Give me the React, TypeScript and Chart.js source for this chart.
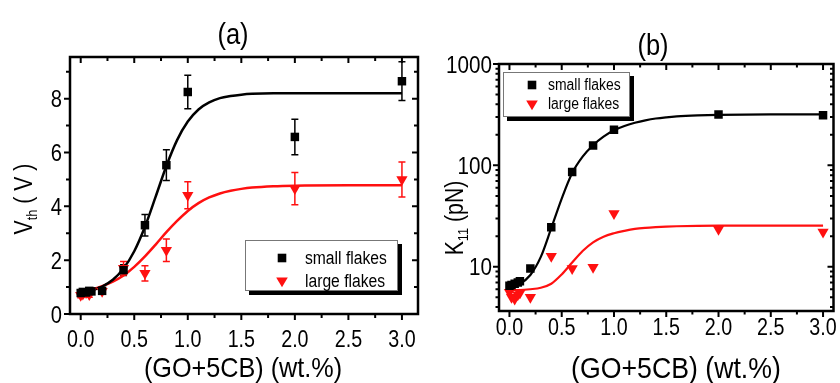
import React, { useEffect, useRef } from "react";
import { Chart, registerables } from "chart.js";

Chart.register(...registerables);

const FONT = '"Liberation Sans", Arial, sans-serif';
const RED = "#ff1010";
const BLACK = "#000000";

// ---------- data ----------
const conc = [0, 0.02, 0.05, 0.08, 0.1, 0.2, 0.4, 0.6, 0.8, 1.0, 2.0, 3.0];

// panel (a): threshold voltage (V)
const vthSmall = [0.78, 0.82, 0.8, 0.86, 0.84, 0.86, 1.63, 3.3, 5.53, 8.25, 6.58, 8.65];
const vthSmallErr = [0.1, 0.1, 0.1, 0.1, 0.1, 0.12, 0.2, 0.4, 0.57, 0.62, 0.66, 0.72];
const vthLarge = [0.7, 0.74, 0.8, 0.72, 0.86, 0.85, 1.7, 1.51, 2.37, 4.41, 4.66, 5.0];
const vthLargeErr = [0.1, 0.1, 0.12, 0.1, 0.12, 0.1, 0.25, 0.28, 0.42, 0.5, 0.6, 0.65];

// fitted curves
const fitConc = [0, 0.1, 0.2, 0.3, 0.4, 0.5, 0.6, 0.7, 0.8, 0.9, 1.0, 1.1, 1.2, 1.3, 1.4, 1.5, 1.6, 1.8, 2.0, 2.5, 3.0];
const vthSmallFit = [0.8, 0.88, 1.02, 1.27, 1.69, 2.33, 3.24, 4.36, 5.5, 6.46, 7.15, 7.6, 7.86, 8.02, 8.1, 8.15, 8.18, 8.2, 8.2, 8.2, 8.2];
const vthLargeFit = [0.78, 0.9, 1.03, 1.2, 1.43, 1.75, 2.14, 2.58, 3.04, 3.46, 3.83, 4.12, 4.33, 4.48, 4.58, 4.65, 4.7, 4.75, 4.77, 4.78, 4.78];

// panel (b): K11 (pN)
const k11Small = [6.5, 6.6, 6.8, 7.0, 7.2, 9.6, 24.5, 86, 157, 225, 318, 312];
const k11Large = [5.6, 5.0, 4.8, 5.3, 5.5, 5.0, 12.7, 9.6, 9.9, 33.5, 23.5, 22];
const k11SmallFit = [6.3, 6.8, 8.3, 12.5, 24, 47, 84, 122, 158, 192, 222, 245, 263, 278, 290, 298, 304, 311, 315, 318, 318];
const k11LargeFit = [5.9, 5.9, 6.0, 6.2, 6.8, 8.4, 11.0, 14.3, 17.4, 19.8, 21.4, 22.6, 23.6, 24.2, 24.6, 24.9, 25.1, 25.3, 25.4, 25.5, 25.5];

// ticks
const xTicks = [0, 0.5, 1, 1.5, 2, 2.5, 3];
const xTickLabels = ["0.0", "0.5", "1.0", "1.5", "2.0", "2.5", "3.0"];
const xMinorTicks = [0.25, 0.75, 1.25, 1.75, 2.25, 2.75];
const vthTicks = [0, 2, 4, 6, 8];
const vthTickLabels = ["0", "2", "4", "6", "8"];
const vthMinorTicks = [1, 3, 5, 7, 9];
const k11Ticks = [10, 100, 1000];
const k11TickLabels = ["10", "100", "1000"];
const k11MinorTicks = [4, 5, 6, 7, 8, 9, 20, 30, 40, 50, 60, 70, 80, 90, 200, 300, 400, 500, 600, 700, 800, 900];

const seriesNames = ["small flakes", "large flakes"];
const xTitle = "(GO+5CB) (wt.%)";

// ---------- text helper (condensed look) ----------
function drawText(ctx: any, text: string, x: number, y: number, size: number, align: string, sx: number) {
  ctx.save();
  ctx.translate(x, y);
  ctx.scale(sx, 1);
  ctx.font = `${size}px ${FONT}`;
  ctx.textAlign = align;
  ctx.textBaseline = "alphabetic";
  ctx.fillText(text, 0, 0);
  ctx.restore();
}

// ---------- plugins ----------
const errorBarPlugin = {
  id: "errorBars",
  beforeDatasetsDraw(chart: any) {
    const { ctx } = chart;
    const x = chart.scales.x;
    const y = chart.scales.y;
    ctx.save();
    chart.data.datasets.forEach((ds: any) => {
      if (!ds.errors) return;
      ctx.strokeStyle = ds.borderColor;
      ctx.lineWidth = 1.5;
      ds.data.forEach((p: any, i: number) => {
        const e = ds.errors[i];
        const px = x.getPixelForValue(p.x);
        const top = y.getPixelForValue(p.y + e);
        const bot = y.getPixelForValue(p.y - e);
        ctx.beginPath();
        ctx.moveTo(px, top);
        ctx.lineTo(px, bot);
        ctx.moveTo(px - 3.5, top);
        ctx.lineTo(px + 3.5, top);
        ctx.moveTo(px - 3.5, bot);
        ctx.lineTo(px + 3.5, bot);
        ctx.stroke();
      });
    });
    ctx.restore();
  },
};

const framePlugin = {
  id: "frame",
  afterDatasetsDraw(chart: any, _a: any, o: any) {
    const { ctx, chartArea: a } = chart;
    const x = chart.scales.x;
    const y = chart.scales.y;
    ctx.save();
    ctx.strokeStyle = BLACK;
    ctx.lineWidth = o.tickWidth;
    ctx.beginPath();
    const hTick = (v: number, len: number) => {
      const px = x.getPixelForValue(v);
      ctx.moveTo(px, a.bottom);
      ctx.lineTo(px, a.bottom + len);
      ctx.moveTo(px, a.top);
      ctx.lineTo(px, a.top + len);
    };
    const vTick = (v: number, len: number) => {
      const py = y.getPixelForValue(v);
      ctx.moveTo(a.left, py);
      ctx.lineTo(a.left - len, py);
      ctx.moveTo(a.right, py);
      ctx.lineTo(a.right - len, py);
    };
    o.xMajor.forEach((v: number) => hTick(v, o.major));
    o.xMinor.forEach((v: number) => hTick(v, o.minor));
    o.yMajor.forEach((v: number) => vTick(v, o.major));
    o.yMinor.forEach((v: number) => vTick(v, o.minor));
    ctx.stroke();
    ctx.lineWidth = o.frameWidth;
    ctx.strokeRect(a.left, a.top, a.right - a.left, a.bottom - a.top);

    // tick labels
    ctx.fillStyle = BLACK;
    const xl = o.xLabel;
    o.xMajor.forEach((v: number, i: number) => {
      drawText(ctx, xl.labels[i], x.getPixelForValue(v), a.bottom + xl.offset, xl.size, "center", xl.sx);
    });
    const yl = o.yLabel;
    o.yMajor.forEach((v: number, i: number) => {
      drawText(ctx, yl.labels[i], a.left - yl.gap, y.getPixelForValue(v) + yl.size * 0.36, yl.size, "right", yl.sx);
    });
    ctx.restore();
  },
};

const boxLegendPlugin = {
  id: "boxLegend",
  afterDraw(chart: any, _a: any, o: any) {
    const { ctx } = chart;
    ctx.save();
    ctx.fillStyle = BLACK;
    ctx.fillRect(o.x + o.shadow, o.y + o.shadow, o.w, o.h);
    ctx.fillStyle = "#ffffff";
    ctx.fillRect(o.x, o.y, o.w, o.h);
    ctx.strokeStyle = "#777777";
    ctx.lineWidth = 1;
    ctx.strokeRect(o.x + 0.5, o.y + 0.5, o.w - 1, o.h - 1);
    o.items.forEach((it: any, i: number) => {
      const cy = o.rowY[i];
      ctx.fillStyle = it.color;
      ctx.beginPath();
      if (it.style === "rect") {
        ctx.rect(o.markerX - 4.3, cy - 4.3, 8.6, 8.6);
      } else {
        ctx.moveTo(o.markerX - 5.8, cy - 3.6);
        ctx.lineTo(o.markerX + 5.8, cy - 3.6);
        ctx.lineTo(o.markerX, cy + 6.2);
        ctx.closePath();
      }
      ctx.fill();
      ctx.fillStyle = BLACK;
      drawText(ctx, it.text, o.textX, cy + o.textDy, o.fontSize, "left", o.sx);
    });
    ctx.restore();
  },
};

const labelPlugin = {
  id: "labels",
  afterDraw(chart: any, _a: any, o: any) {
    const { ctx } = chart;
    ctx.save();
    ctx.fillStyle = BLACK;
    drawText(ctx, o.title.text, o.title.x, o.title.y, o.title.size, "center", o.title.sx);
    drawText(ctx, o.xTitle.text, o.xTitle.x, o.xTitle.y, o.xTitle.size, "center", o.xTitle.sx);
    // rotated y title with subscript
    const yt = o.yTitle;
    ctx.translate(yt.x, yt.y);
    ctx.rotate(-Math.PI / 2);
    ctx.scale(yt.sx, 1);
    ctx.textAlign = "left";
    ctx.textBaseline = "alphabetic";
    let total = 0;
    yt.parts.forEach((p: any) => {
      ctx.font = `${p.size}px ${FONT}`;
      total += ctx.measureText(p.text).width;
    });
    let xx = -total / 2;
    yt.parts.forEach((p: any) => {
      ctx.font = `${p.size}px ${FONT}`;
      ctx.fillText(p.text, xx, p.dy);
      xx += ctx.measureText(p.text).width;
    });
    ctx.restore();
  },
};

// ---------- configs ----------
function pts(xs: number[], ys: number[]) {
  return xs.map((x, i) => ({ x, y: ys[i] }));
}

function xScale(min: number, max: number, height: number) {
  return {
    type: "linear",
    min,
    max,
    grid: { display: false, drawTicks: false },
    border: { display: false },
    ticks: { display: false },
    afterBuildTicks: (s: any) => {
      s.ticks = xTicks.map((v) => ({ value: v }));
    },
    afterFit: (s: any) => {
      s.height = height;
      s.paddingLeft = 0;
      s.paddingRight = 0;
    },
  };
}

function yScale(type: string, min: number, max: number, ticks: number[]) {
  return {
    type,
    min,
    max,
    grid: { display: false, drawTicks: false },
    border: { display: false },
    ticks: { display: false },
    afterBuildTicks: (s: any) => {
      s.ticks = ticks.map((v) => ({ value: v }));
    },
    afterFit: (s: any) => {
      s.width = 50;
      s.paddingTop = 0;
      s.paddingBottom = 0;
    },
  };
}

function datasets(sy: number[], ly: number[], sf: number[], lf: number[], se?: number[], le?: number[], lw = 2.5) {
  return [
    {
      label: seriesNames[0],
      data: pts(conc, sy),
      errors: se,
      pointStyle: "rect",
      pointRadius: 6,
      backgroundColor: BLACK,
      borderColor: BLACK,
      borderWidth: 0,
      showLine: false,
    },
    {
      label: seriesNames[1],
      data: pts(conc, ly),
      errors: le,
      pointStyle: "triangle",
      rotation: 180,
      pointRadius: 6.5,
      backgroundColor: RED,
      borderColor: RED,
      borderWidth: 0,
      showLine: false,
    },
    {
      label: "fit small",
      data: pts(fitConc, sf),
      showLine: true,
      pointRadius: 0,
      borderColor: BLACK,
      borderWidth: lw,
      cubicInterpolationMode: "monotone",
    },
    {
      label: "fit large",
      data: pts(fitConc, lf),
      showLine: true,
      pointRadius: 0,
      borderColor: RED,
      borderWidth: lw,
      cubicInterpolationMode: "monotone",
    },
  ];
}

function configA(): any {
  return {
    type: "scatter",
    data: { datasets: datasets(vthSmall, vthLarge, vthSmallFit, vthLargeFit, vthSmallErr, vthLargeErr, 2.5) },
    options: {
      animation: false,
      responsive: false,
      layout: { padding: { left: 20, right: 12, top: 57, bottom: 19 } },
      plugins: {
        legend: { display: false },
        tooltip: { enabled: false },
        frame: {
          xMajor: xTicks, xMinor: xMinorTicks, yMajor: vthTicks, yMinor: vthMinorTicks,
          major: 6, minor: 4, tickWidth: 2, frameWidth: 2.5,
          xLabel: { labels: xTickLabels, offset: 33, size: 24, sx: 0.82 },
          yLabel: { labels: vthTickLabels, gap: 8, size: 24, sx: 0.84 },
        },
        boxLegend: {
          x: 245, y: 240, w: 153, h: 51, shadow: 4, fontSize: 18, sx: 0.87,
          markerX: 282, textX: 305, rowY: [258, 281], textDy: 6,
          items: [
            { text: seriesNames[0], color: BLACK, style: "rect" },
            { text: seriesNames[1], color: RED, style: "tri" },
          ],
        },
        labels: {
          title: { text: "(a)", x: 233, y: 44, size: 30, sx: 0.85 },
          xTitle: { text: xTitle, x: 243, y: 377, size: 28, sx: 0.9 },
          yTitle: {
            x: 32, y: 199, sx: 0.85,
            parts: [
              { text: "V", size: 25, dy: 0 },
              { text: "th", size: 15, dy: 5 },
              { text: " ( V )", size: 25, dy: 0 },
            ],
          },
        },
      },
      scales: {
        x: xScale(-0.1, 3.15, 50),
        y: yScale("linear", 0, 9.55, vthTicks),
      },
    },
    plugins: [errorBarPlugin, framePlugin, boxLegendPlugin, labelPlugin],
  };
}

function configB(): any {
  return {
    type: "scatter",
    data: { datasets: datasets(k11Small, k11Large, k11SmallFit, k11LargeFit, undefined, undefined, 2.2) },
    options: {
      animation: false,
      responsive: false,
      layout: { padding: { left: 19, right: 6, top: 64, bottom: 32 } },
      plugins: {
        legend: { display: false },
        tooltip: { enabled: false },
        frame: {
          xMajor: xTicks, xMinor: xMinorTicks, yMajor: k11Ticks, yMinor: k11MinorTicks,
          major: 6, minor: 3.5, tickWidth: 2, frameWidth: 2.5,
          xLabel: { labels: xTickLabels, offset: 24, size: 24, sx: 0.82 },
          yLabel: { labels: k11TickLabels, gap: 7, size: 24, sx: 0.86 },
        },
        boxLegend: {
          x: 73, y: 72, w: 127, h: 45, shadow: 4, fontSize: 16, sx: 0.87,
          markerX: 102, textX: 118, rowY: [85, 104], textDy: 5,
          items: [
            { text: seriesNames[0], color: BLACK, style: "rect" },
            { text: seriesNames[1], color: RED, style: "tri" },
          ],
        },
        labels: {
          title: { text: "(b)", x: 223, y: 55, size: 30, sx: 0.85 },
          xTitle: { text: xTitle, x: 246, y: 378, size: 29, sx: 0.92 },
          yTitle: {
            x: 33, y: 218, sx: 0.85,
            parts: [
              { text: "K", size: 25, dy: 0 },
              { text: "11", size: 15, dy: 5 },
              { text: " (pN)", size: 25, dy: 0 },
            ],
          },
        },
      },
      scales: {
        x: xScale(-0.1, 3.1, 40),
        y: yScale("logarithmic", 3.66, 1000, k11Ticks),
      },
    },
    plugins: [framePlugin, boxLegendPlugin, labelPlugin],
  };
}

function Panel({ left, width, make }: { left: number; width: number; make: () => any }) {
  const ref = useRef<HTMLCanvasElement | null>(null);
  useEffect(() => {
    if (!ref.current) return;
    const chart = new Chart(ref.current, make());
    return () => chart.destroy();
  }, [make]);
  return (
    <canvas
      ref={ref}
      width={width}
      height={383}
      style={{ position: "absolute", left, top: 0, width, height: 383 }}
    />
  );
}

export default function App() {
  return (
    <div style={{ position: "fixed", left: 0, top: 0, width: 840, height: 383, background: "#ffffff", overflow: "hidden" }}>
      <Panel left={0} width={430} make={configA} />
      <Panel left={430} width={410} make={configB} />
    </div>
  );
}
